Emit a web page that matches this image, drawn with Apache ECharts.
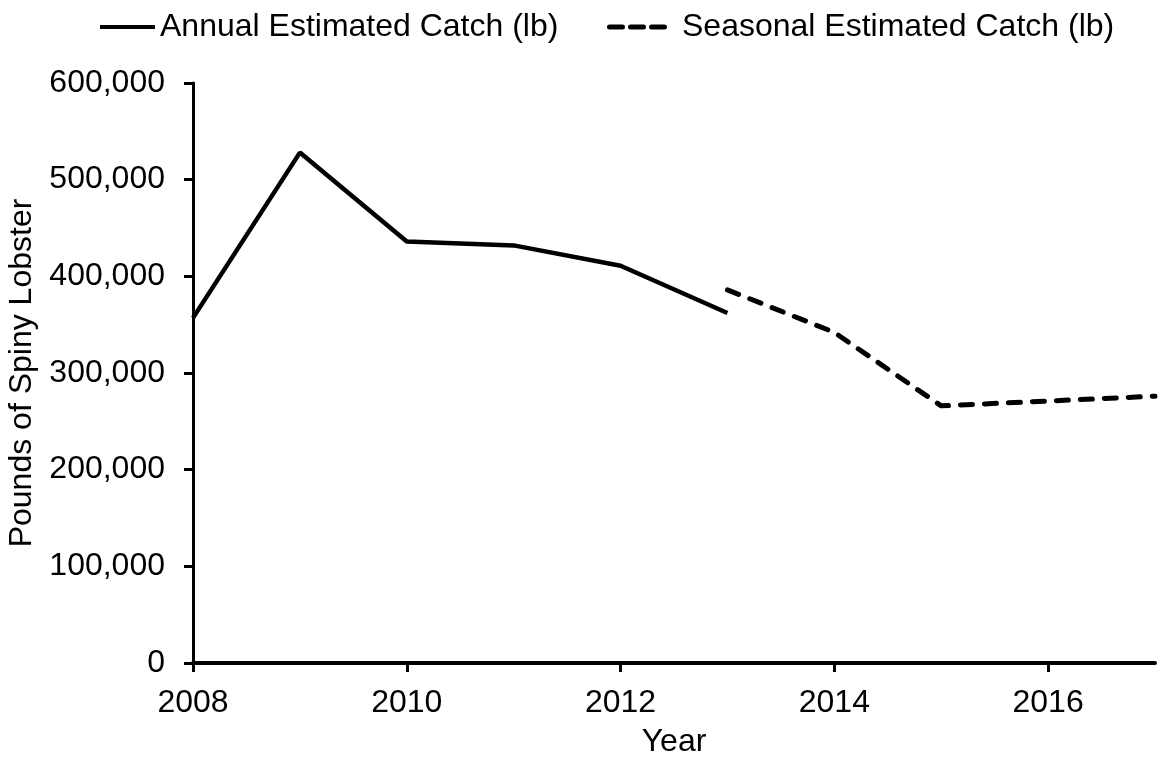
<!DOCTYPE html>
<html>
<head>
<meta charset="utf-8">
<script src="https://cdn.jsdelivr.net/npm/echarts@6/dist/echarts.min.js"></script>
<style>
  html, body { margin: 0; padding: 0; background: #fff; }
  #chart { width: 1160px; height: 762px; }
</style>
</head>
<body>
<div id="chart"></div>
<script>
// Spiny lobster catch estimates, pounds per year
const annualYears = [2008, 2009, 2010, 2011, 2012, 2013];
const annualCatch = [357000, 528000, 436000, 432000, 411000, 362000];
const seasonalYears = [2013, 2014, 2015, 2016, 2017];
const seasonalCatch = [386000, 342000, 266000, 271000, 276000];
const yearTicks = [2008, 2010, 2012, 2014, 2016];
const seriesNames = ['Annual Estimated Catch (lb)', 'Seasonal Estimated Catch (lb)'];
const xAxisTitle = 'Year';
const yAxisTitle = 'Pounds of Spiny Lobster';

const font = '"Liberation Sans", Arial, sans-serif';
const fontSize = 32;

const pairs = (xs, ys) => xs.map((x, i) => [x, ys[i]]);
const withCommas = v => String(v).replace(/\B(?=(\d{3})+(?!\d))/g, ',');

// legend glyphs: a solid bar and three rounded dashes
const solidIcon = 'path://M0,0 H55 V4 H0 Z';
function dashIcon(starts, len, h) {
  const r = h / 2;
  return 'path://' + starts.map(a =>
    `M${a + r},0 H${a + len - r} A${r},${r} 0 0 1 ${a + len - r},${h} H${a + r} A${r},${r} 0 0 1 ${a + r},0 Z`
  ).join(' ');
}
const dashedIcon = dashIcon([0, 21, 42], 18, 5);

const legendText = { fontFamily: font, fontSize: fontSize, color: '#000' };

const chart = echarts.init(document.getElementById('chart'), null, { renderer: 'canvas' });
chart.setOption({
  animation: false,
  backgroundColor: '#ffffff',
  textStyle: { fontFamily: font, color: '#000' },
  grid: { left: 193, right: 5, top: 83, bottom: 99, outerBoundsMode: 'none', containLabel: false },
  legend: [
    {
      top: 11, left: 100, padding: 0, itemWidth: 55, itemHeight: 4, itemGap: 0,
      textStyle: legendText,
      data: [{ name: seriesNames[0], icon: solidIcon }]
    },
    {
      top: 11, left: 607, padding: 0, itemWidth: 60, itemHeight: 5, itemGap: 0,
      textStyle: Object.assign({}, legendText, { padding: [0, 0, 0, 10] }),
      data: [{ name: seriesNames[1], icon: dashedIcon }]
    }
  ],
  xAxis: {
    type: 'value',
    min: 2008,
    max: 2017,
    interval: 2,
    name: xAxisTitle,
    nameLocation: 'middle',
    nameGap: 63,
    nameTextStyle: { fontFamily: font, fontSize: fontSize, color: '#000' },
    axisLine: { show: true, onZero: false, lineStyle: { color: '#000', width: 4 } },
    axisTick: { show: true, length: 9, customValues: yearTicks, lineStyle: { color: '#000', width: 3 } },
    axisLabel: {
      fontFamily: font, fontSize: fontSize, color: '#000', margin: 24,
      customValues: yearTicks, formatter: v => String(v)
    },
    splitLine: { show: false }
  },
  yAxis: {
    type: 'value',
    min: 0,
    max: 600000,
    interval: 100000,
    name: yAxisTitle,
    nameLocation: 'middle',
    nameGap: 147,
    nameRotate: 90,
    nameTextStyle: { fontFamily: font, fontSize: fontSize, color: '#000' },
    axisLine: { show: true, lineStyle: { color: '#000', width: 3 } },
    axisTick: { show: true, length: 9, lineStyle: { color: '#000', width: 3 } },
    axisLabel: { fontFamily: font, fontSize: fontSize, color: '#000', margin: 28, formatter: withCommas },
    splitLine: { show: false }
  },
  series: [
    {
      name: seriesNames[0],
      type: 'line',
      data: pairs(annualYears, annualCatch),
      symbol: 'none',
      color: '#000',
      lineStyle: { color: '#000', width: 4.5, type: 'solid' }
    },
    {
      name: seriesNames[1],
      type: 'line',
      data: pairs(seasonalYears, seasonalCatch),
      symbol: 'none',
      color: '#000',
      lineStyle: { color: '#000', width: 5, type: [12, 12], cap: 'round', join: 'round' }
    }
  ]
});
</script>
</body>
</html>
